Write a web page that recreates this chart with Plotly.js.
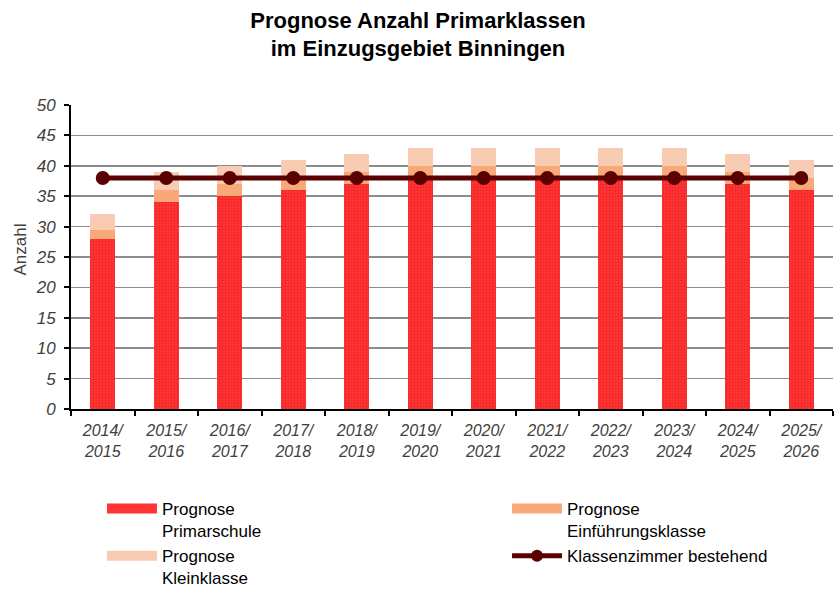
<!DOCTYPE html>
<html>
<head>
<meta charset="utf-8">
<script src="https://cdn.plot.ly/plotly-3.0.1.min.js"></script>
<style>html,body{margin:0;padding:0;background:#fff;}#chart{width:836px;height:593px;}</style>
</head>
<body>
<div id="chart"></div>
<script>
const categories = ["2014/<br>2015","2015/<br>2016","2016/<br>2017","2017/<br>2018","2018/<br>2019","2019/<br>2020","2020/<br>2021","2021/<br>2022","2022/<br>2023","2023/<br>2024","2024/<br>2025","2025/<br>2026"];
const primarschule = [28, 34, 35, 36, 37, 38, 38, 38, 38, 38, 37, 36];
const einfuehrung = [1.5, 2, 2, 2, 2, 2, 2, 2, 2, 2, 2, 2];
const kleinklasse = [2.5, 3, 3, 3, 3, 3, 3, 3, 3, 3, 3, 3];
const klassenzimmer = [38, 38, 38, 38, 38, 38, 38, 38, 38, 38, 38, 38];

const RED = '#ff3535', ORANGE = '#f9a877', LIGHT = '#f8cbb3', MAROON = '#5a0000';

const traces = [
  {type:'bar', x:categories, y:primarschule, name:'Prognose<br>Primarschule', showlegend:false,
   marker:{color:RED, pattern:{shape:'+', fgcolor:'#e81e1e', bgcolor:RED, size:3, solidity:0.25}}},
  {type:'bar', x:categories, y:einfuehrung, name:'Prognose<br>Einführungsklasse', showlegend:false, marker:{color:ORANGE}},
  {type:'bar', x:categories, y:kleinklasse, name:'Prognose<br>Kleinklasse', showlegend:false, marker:{color:LIGHT}},
  {type:'scatter', mode:'lines+markers', x:categories, y:klassenzimmer, name:'Klassenzimmer bestehend', showlegend:false,
   line:{color:MAROON, width:5}, marker:{color:MAROON, size:14}},
  // legend-only entries
  {type:'scatter', mode:'lines', x:[null], y:[null], name:'Prognose<br>Primarschule', legend:'legend', legendgroup:'a', line:{color:RED, width:10}},
  {type:'scatter', mode:'lines', x:[null], y:[null], name:'Prognose<br>Kleinklasse', legend:'legend', legendgroup:'b', line:{color:LIGHT, width:10}},
  {type:'scatter', mode:'lines', x:[null], y:[null], name:'Prognose<br>Einführungsklasse', legend:'legend2', legendgroup:'c', line:{color:ORANGE, width:10}},
  {type:'scatter', mode:'lines+markers', x:[null], y:[null], name:'Klassenzimmer bestehend', legend:'legend2', legendgroup:'d', line:{color:MAROON, width:5}, marker:{color:MAROON, size:12}}
];

const legendBase = {orientation:'v', xref:'container', xanchor:'left', yref:'container', y:0.172, yanchor:'top', valign:'top',
                    itemwidth:50, tracegroupgap:3, font:{size:17, color:'#000'}, traceorder:'normal', bgcolor:'rgba(0,0,0,0)'};

const layout = {
  width:836, height:593,
  margin:{l:71, r:3, t:105, b:184, autoexpand:false},
  paper_bgcolor:'#fff', plot_bgcolor:'#fff',
  barmode:'stack', bargap:0.6,
  font:{family:'Liberation Sans, Arial, sans-serif', color:'#000'},
  title:{text:'<b>Prognose Anzahl Primarklassen<br>im Einzugsgebiet Binningen</b>', x:0.5, xanchor:'center', yref:'container', y:0.953, yanchor:'middle', font:{size:22, color:'#000'}},
  xaxis:{type:'category', range:[-0.5, categories.length - 0.5], showline:true, linecolor:'#000', linewidth:2, ticks:'outside', tickson:'boundaries', ticklen:5, tickcolor:'#000', tickwidth:2,
         ticklabelstandoff:6,
         tickfont:{size:16, color:'#404040', style:'italic'}, showgrid:false, fixedrange:true},
  yaxis:{range:[0,50], dtick:5, showline:true, linecolor:'#000', linewidth:2, ticks:'outside', ticklen:5, tickcolor:'#000', tickwidth:2,
         gridcolor:'#8c8c8c', gridwidth:1.5, zeroline:false, ticklabelstandoff:5,
         tickfont:{size:17, color:'#404040', style:'italic'}},
  annotations:[{text:'Anzahl', textangle:-90, xref:'paper', yref:'paper', x:-0.0675, y:0.523, xanchor:'center', yanchor:'middle',
                showarrow:false, font:{size:17, color:'#404040'}}],
  legend:Object.assign({}, legendBase, {x:0.122}),
  legend2:Object.assign({}, legendBase, {x:0.6065}),
  showlegend:true
};

Plotly.newPlot('chart', traces, layout, {displayModeBar:false, staticPlot:true});
</script>
</body>
</html>
